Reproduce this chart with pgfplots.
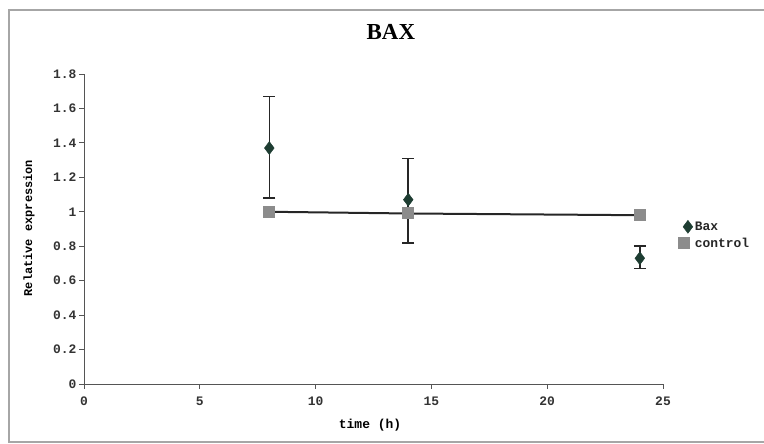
\documentclass[border=0pt]{standalone}
\usepackage{pgfplots}
\pgfplotsset{compat=1.18}
\usepackage{fontspec}
\setmainfont{Liberation Serif}
\newfontfamily\mono{Liberation Mono}
\definecolor{baxc}{HTML}{1E3D32}
\definecolor{ctrlc}{HTML}{8C8C8C}
\definecolor{axc}{HTML}{555555}
\pgfplotsset{marklegend/.style={legend image code/.code={\draw[##1, draw opacity=0] plot coordinates {(0.15cm,0cm)};}}}
\begin{document}
\begin{tikzpicture}[x=1bp,y=1bp]
\useasboundingbox (0,0) rectangle (764,444);
\draw[gray!70, line width=1.5bp] (770,434) -- (9,434) -- (9,2) -- (770,2);
\begin{axis}[
  at={(84bp,60bp)}, anchor=south west,
  scale only axis, width=579bp, height=310bp,
  xmin=0, xmax=25, ymin=0, ymax=1.8,
  axis lines*=left,
  axis line style={axc, line width=0.9bp},
  tick align=outside, tick pos=left,
  major tick length=5bp,
  tick style={axc, line width=0.9bp},
  xtick={0,5,10,15,20,25},
  ytick={0,0.2,0.4,0.6,0.8,1,1.2,1.4,1.6,1.8},
  /pgf/number format/assume math mode=true,
  ticklabel style={font=\mono\bfseries\fontsize{13}{14}\selectfont, text=black!80},
  xticklabel style={yshift=-4bp},
  yticklabel style={/pgf/number format/fixed, /pgf/number format/precision=1, xshift=1bp},
  title={BAX},
  title style={at={(rel axis cs:0.530,1.116)}, anchor=center, font=\bfseries\fontsize{23}{25}\selectfont},
  xlabel={time (h)},
  xlabel style={at={(rel axis cs:0.494,-0.132)}, anchor=center, font=\mono\bfseries\fontsize{13}{14}\selectfont},
  ylabel={Relative expression},
  ylabel style={at={(rel axis cs:-0.095,0.503)}, anchor=center, font=\mono\bfseries\fontsize{12}{13}\selectfont},
  legend style={at={(rel axis cs:1.025,0.48)}, anchor=west, draw=none, fill=none,
    font=\mono\bfseries\fontsize{13}{14}\selectfont, text=black!85, row sep=2bp, inner sep=1bp},
  legend cell align=left,
  clip=false,
]
\addplot[only marks, mark=diamond*, mark size=6.5bp, mark options={fill=baxc, draw=baxc},
  error bars/.cd, y dir=both, y explicit,
  error bar style={black!85, line width=1.5bp},
  error mark options={rotate=90, black!85, line width=1.5bp, mark size=6bp}]
  coordinates {
  (8,1.37) += (0,0.30) -= (0,0.29)
  (14,1.07) += (0,0.24) -= (0,0.25)
  (24,0.73) += (0,0.07) -= (0,0.06)
  };
\addlegendentry{Bax}
\addplot[black!85, line width=2bp, mark=square*, mark size=5bp,
  mark options={fill=ctrlc, draw=ctrlc, draw opacity=1}, marklegend]
  coordinates {(8,1.00) (14,0.99) (24,0.98)};
\addlegendentry{control}
\end{axis}
\end{tikzpicture}
\end{document}
